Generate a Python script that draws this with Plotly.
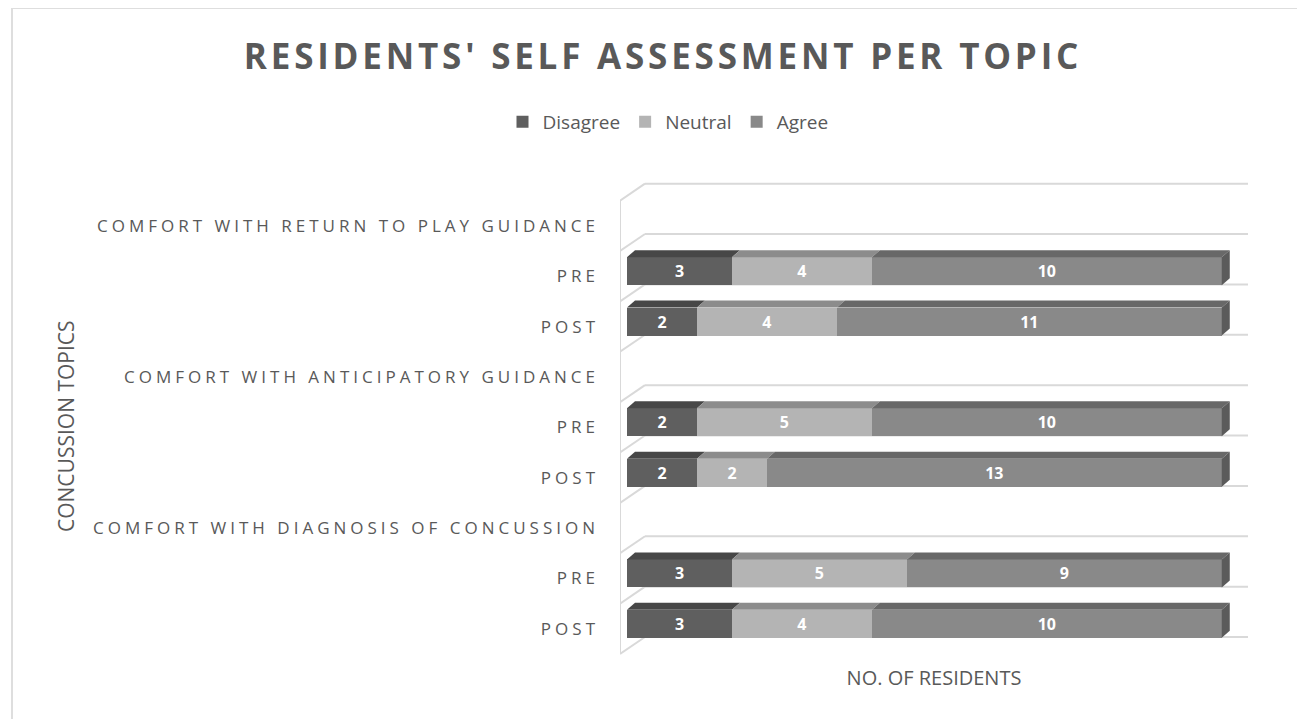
import plotly.graph_objects as go

# ---------------- data ----------------
row_labels = [
    "COMFORT WITH RETURN TO PLAY GUIDANCE",
    "PRE",
    "POST",
    "COMFORT WITH ANTICIPATORY GUIDANCE",
    "PRE",
    "POST",
    "COMFORT WITH DIAGNOSIS OF CONCUSSION",
    "PRE",
    "POST",
]
disagree = [None, 3, 2, None, 2, 2, None, 3, 3]
neutral = [None, 4, 4, None, 5, 2, None, 5, 4]
agree = [None, 10, 11, None, 10, 13, None, 9, 10]

series_names = ["Disagree", "Neutral", "Agree"]
series_values = [disagree, neutral, agree]

# ---------------- styling ----------------
front_colors = ["#5f5f5f", "#b4b4b4", "#898989"]
top_colors = ["#474747", "#8c8c8c", "#686868"]
side_color = "#5b5b5b"
grid_color = "#d9d9d9"
text_color = "#595959"
FONT = "Open Sans"

n = len(row_labels)
ypos = [n - 1 - i for i in range(n)]  # top row highest

BAR_W = 0.556      # bar thickness (category units)
BAR_OFF = -0.178   # bar offset from category centre
DX = 0.229         # 3D depth in x units
DY = 0.139         # 3D depth in y units
WALL_DX = 0.714
WALL_DY = 0.337
X_MIN, X_MAX = -0.2, 17.75
Y_MIN, Y_MAX = -0.52, 8.87

ML, MR, MT, MB = 612, 65, 174, 72
PW, PH = 1305 - ML - MR, 719 - MT - MB

def px(fx):
    return (fx - ML) / PW

def py(fy):
    return (MT + PH - fy) / PH

fig = go.Figure()

# front faces (stacked bars)
for name, vals, col in zip(series_names, series_values, front_colors):
    fig.add_trace(go.Bar(
        name=name, orientation="h", x=vals, y=ypos,
        width=BAR_W, offset=BAR_OFF,
        marker=dict(color=col, line=dict(width=0)),
        text=vals, texttemplate="%{x}", textposition="inside",
        insidetextanchor="middle",
        textfont=dict(family=FONT, size=16, color="white", weight="bold"),
        hoverinfo="skip",
    ))

# top faces and right side faces, derived from the data
for i in range(n):
    if disagree[i] is None:
        continue
    y_bot = ypos[i] + BAR_OFF
    y_top = y_bot + BAR_W
    start = 0
    for vals, tcol in zip(series_values, top_colors):
        end = start + vals[i]
        fig.add_trace(go.Scatter(
            x=[start, end, end + DX, start + DX, start],
            y=[y_top, y_top, y_top + DY, y_top + DY, y_top],
            mode="lines", fill="toself", fillcolor=tcol,
            line=dict(width=0, color=tcol), showlegend=False, hoverinfo="skip",
        ))
        start = end
    fig.add_trace(go.Scatter(
        x=[start, start + DX, start + DX, start, start],
        y=[y_bot, y_bot + DY, y_top + DY, y_top, y_bot],
        mode="lines", fill="toself", fillcolor=side_color,
        line=dict(width=0, color=side_color), showlegend=False, hoverinfo="skip",
    ))

# back wall / floor lines of the 3D frame
shapes = []
for k in range(n + 1):
    yf = k - 0.5
    yb = yf + WALL_DY
    shapes.append(dict(type="line", xref="x", yref="y", x0=X_MIN, y0=yf,
                       x1=X_MIN + WALL_DX, y1=yb,
                       line=dict(color=grid_color, width=2), layer="below"))
    shapes.append(dict(type="line", xref="x", yref="y", x0=X_MIN + WALL_DX, y0=yb,
                       x1=X_MAX, y1=yb,
                       line=dict(color=grid_color, width=2), layer="below"))
shapes.append(dict(type="line", xref="x", yref="y", x0=X_MIN, y0=-0.5,
                   x1=X_MIN, y1=n - 0.5,
                   line=dict(color=grid_color, width=2), layer="below"))
# outer chart border
shapes.append(dict(type="rect", xref="paper", yref="paper",
                   x0=px(4), x1=px(1320), y0=py(740), y1=py(0),
                   line=dict(color="#dedede", width=2), layer="below"))

fig.update_layout(
    width=1305, height=719,
    margin=dict(l=ML, r=MR, t=MT, b=MB),
    paper_bgcolor="white", plot_bgcolor="white",
    barmode="stack",
    shapes=shapes,
    font=dict(family=FONT, color=text_color),
    title=dict(text="<b>RESIDENTS' SELF ASSESSMENT PER TOPIC</b>",
               font=dict(family=FONT, size=35, color=text_color),
               x=655 / 1305, xref="container", xanchor="center",
               y=1 - 49 / 719, yref="container", yanchor="middle"),
    legend=dict(orientation="h", x=660 / 1305, xref="container", xanchor="center",
                y=1 - 114 / 719, yref="container", yanchor="middle",
                font=dict(family=FONT, size=19, color=text_color),
                traceorder="normal", itemclick=False),
    xaxis=dict(range=[X_MIN, X_MAX], showticklabels=False, showgrid=False,
               zeroline=False, showline=False, ticks="",
               title=dict(text="NO. OF RESIDENTS", standoff=15,
                          font=dict(family=FONT, size=20, color=text_color))),
    yaxis=dict(range=[Y_MIN, Y_MAX], tickvals=ypos, ticktext=row_labels,
               showgrid=False, zeroline=False, showline=False, ticks="",
               ticklabelstandoff=20,
               tickfont=dict(family=FONT, size=17, color=text_color)),
    annotations=[dict(text="CONCUSSION TOPICS", textangle=-90,
                      xref="paper", yref="paper",
                      x=px(58), y=py(418),
                      xanchor="center", yanchor="middle", showarrow=False,
                      font=dict(family=FONT, size=21, color=text_color))],
)

post = """
var gd = document.getElementById('{plot_id}');
function spacing(){
  gd.querySelectorAll('.ytick text').forEach(function(t){ t.style.letterSpacing='4px'; });
  gd.querySelectorAll('.gtitle').forEach(function(t){ t.style.letterSpacing='3.8px'; });
}
spacing();
gd.on('plotly_afterplot', spacing);
"""

fig.write_html("out.html", post_script=post)
